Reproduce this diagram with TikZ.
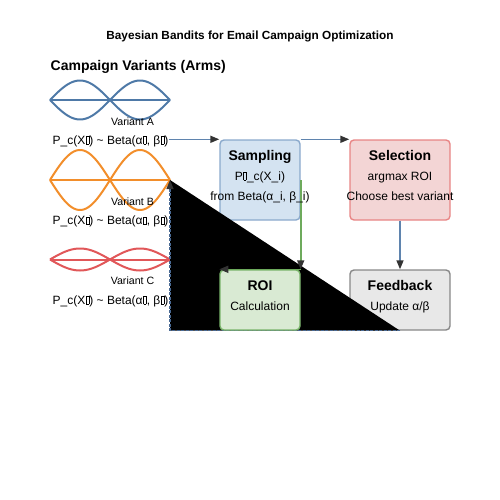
\documentclass[tikz,border=0pt]{standalone}
\usepackage{fontspec}
\setmainfont{Liberation Sans}
\usetikzlibrary{arrows.meta}
\definecolor{cblue}{HTML}{4E79A7}
\definecolor{corange}{HTML}{F28E2B}
\definecolor{cred}{HTML}{E15759}
\definecolor{arrblue}{HTML}{5F84AE}
\definecolor{arrgreen}{HTML}{6DAA5C}
\definecolor{headgray}{HTML}{333333}
\definecolor{sampfill}{HTML}{D4E3F1}
\definecolor{sampdraw}{HTML}{8AA9CC}
\definecolor{selfill}{HTML}{F3D5D5}
\definecolor{seldraw}{HTML}{E88585}
\definecolor{roifill}{HTML}{D9EAD3}
\definecolor{roidraw}{HTML}{79B46A}
\definecolor{fbfill}{HTML}{E8E8E8}
\definecolor{fbdraw}{HTML}{888888}
\definecolor{dashblue}{HTML}{4A6A94}
\newcommand{\tofu}{\kern0.4pt\vrule width0.45pt height8.2pt depth0pt\vbox{\hrule width2.4pt height0.45pt\vskip7.3pt\hrule width 2.4pt height0.45pt}\vrule width0.45pt height8.2pt depth0pt\kern0.4pt}
\tikzset{
  boxnode/.style={rounded corners=4pt, line width=1.4pt, inner sep=0pt},
  txt/.style={anchor=base, inner sep=0pt, font=\fontsize{12}{14}\selectfont},
  hd/.style={anchor=base, inner sep=0pt, font=\fontsize{14}{16}\selectfont\bfseries},
  small/.style={anchor=base, inner sep=0pt, font=\fontsize{10.6}{12}\selectfont},
  arr/.style={draw=arrblue, line width=1.6pt, -{Triangle[length=9pt,width=7pt,color=headgray]}},
  garr/.style={draw=arrgreen, line width=1.6pt, -{Triangle[length=9pt,width=7pt,color=headgray]}},
  wave/.style={line width=2pt, line join=round},
}
\begin{document}
\begin{tikzpicture}[x=1pt,y=-1pt]
\useasboundingbox (0,0) rectangle (500,500);
% title
\node[anchor=base, inner sep=0pt, font=\fontsize{11.8}{14}\selectfont\bfseries] (title) at (250,40) {Bayesian Bandits for Email Campaign Optimization};
\node[hd, anchor=base west] (arms) at (50.5,70.5) {Campaign Variants (Arms)};
% waves
\foreach \c/\A/\col in {100/19.5/cblue, 180/30/corange, 259.5/11/cred}{
  \draw[wave, draw=\col] plot[domain=50:170, samples=81, smooth] (\x, {\c + \A*sin(3*(\x-50))});
  \draw[wave, draw=\col] plot[domain=50:170, samples=81, smooth] (\x, {\c - \A*sin(3*(\x-50))});
  \draw[wave, draw=\col] (50,\c) -- (170,\c);
}
\coordinate (vb) at (170,180);
\node[small] (va) at (132.5,125) {Variant A};
\node[small] (vbl) at (132.5,205) {Variant B};
\node[small] (vc) at (132.5,284.3) {Variant C};
\node[txt] (la) at (110.5,144.3) {P\_c(X\tofu) \textasciitilde{} Beta(α\tofu, β\tofu)};
\node[txt] (lb) at (110.5,224.8) {P\_c(X\tofu) \textasciitilde{} Beta(α\tofu, β\tofu)};
\node[txt] (lc) at (110.5,304.3) {P\_c(X\tofu) \textasciitilde{} Beta(α\tofu, β\tofu)};
% boxes (lower layer)
\node[boxnode, fill=sampfill, draw=sampdraw, minimum width=80pt, minimum height=80pt] (samp) at (260,180) {};
\node[boxnode, fill=selfill, draw=seldraw, minimum width=100pt, minimum height=80pt] (sel) at (400,180) {};
\node[boxnode, fill=fbfill, draw=fbdraw, minimum width=100pt, minimum height=60pt] (fb) at (400,300) {};
% arrows
\draw[arr] (samp.north west -| la.east) -- (samp.north west);
\draw[arr] (samp.north east) -- (sel.north west);
\draw[arr] (sel.south) -- (fb.north);
% feedback loop (filled)
\fill[black] (fb.south) -- (fb.south -| vb) -- (vb) -- cycle;
\draw[draw=dashblue, line width=1.2pt, dash pattern=on 3pt off 1.5pt, -{Triangle[length=9pt,width=7pt,color=headgray]}] (fb.south) -| (vb);
% ROI box on top
\node[boxnode, fill=roifill, draw=roidraw, minimum width=80pt, minimum height=60pt] (roi) at (260,300) {};
\draw[garr] (samp.east) -- (roi.north east);
\draw[garr] (roi.north east) -- (roi.north west);
% box texts
\node[hd] (t1) at (260,160) {Sampling};
\node[txt] (t2) at (260,180) {P\tofu\_c(X\_i)};
\node[txt] (t3) at (260,200) {from Beta(α\_i, β\_i)};
\node[hd] (t4) at (400,160) {Selection};
\node[txt] (t5) at (400,180) {argmax ROI};
\node[txt] (t6) at (400,200) {Choose best variant};
\node[hd] (t7) at (260,290) {ROI};
\node[txt] (t8) at (260,310) {Calculation};
\node[hd] (t9) at (400,290) {Feedback};
\node[txt] (t10) at (400,310) {Update α/β};
\end{tikzpicture}
\end{document}
